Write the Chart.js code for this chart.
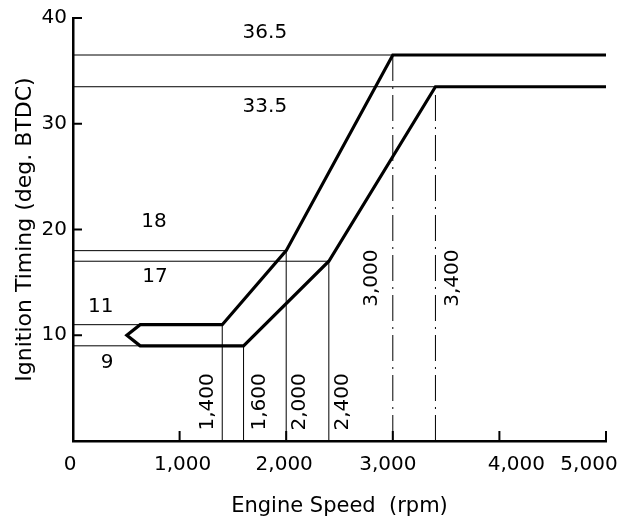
<!DOCTYPE html>
<html>
<head>
<meta charset="utf-8">
<script src="https://cdn.jsdelivr.net/npm/chart.js@4/dist/chart.umd.min.js"></script>
<style>
    html, body { margin: 0; padding: 0; background: #fff; }
    #wrap { width: 628px; height: 527px; }
</style>
</head>
<body>
<div id="wrap"><canvas id="timingChart"></canvas></div>
<script>
// advance curve (outline of the band)
const curveRpm = [5000, 3000, 2000, 1400, 630, 505, 630, 1600, 2400, 3400, 5000];
const curveDeg = [36.5, 36.5, 18, 11, 11, 10, 9, 9, 17, 33.5, 33.5];

// thin guide lines
const levelDeg = [36.5, 33.5, 18, 17, 11, 9];
const levelEnd = [3000, 3400, 2000, 2400, 630, 630];
const markRpm = [1400, 1600, 2000, 2400, 3000, 3400];
const markTop = [11, 9, 18, 17, 36.5, 33.5];
const markDashed = [false, false, false, false, true, true];

// annotation texts
const noteText = ['36.5', '33.5', '18', '17', '11', '9'];
const noteRpm = [1800, 1800, 760, 770, 260, 320];
const noteDeg = [38.6, 31.6, 20.7, 15.5, 12.7, 7.4];
const markText = ['1,400', '1,600', '2,000', '2,400', '3,000', '3,400'];
const markTextRpm = [1265, 1755, 2130, 2530, 2805, 3565];
const markTextDeg = [3.7, 3.7, 3.7, 3.7, 15.4, 15.4];

// small nudges of the x tick labels, like the typeset original
const xLabelShift = { 0: -3, 1000: 3, 2000: -2, 3000: -5, 4000: 17, 5000: -17 };

const FONT = "'DejaVu Sans', sans-serif";

const datasets = [{
    data: curveRpm.map((x, i) => ({ x: x, y: curveDeg[i] })),
    borderColor: '#000',
    borderWidth: 3.2,
    borderJoinStyle: 'miter',
    pointRadius: 0,
    order: 0
}];

levelDeg.forEach((d, i) => {
    datasets.push({
        data: [{ x: 0, y: d }, { x: levelEnd[i], y: d }],
        borderColor: '#000',
        borderWidth: 1,
        pointRadius: 0,
        order: 1
    });
});

markRpm.forEach((r, i) => {
    datasets.push({
        data: [{ x: r, y: 0 }, { x: r, y: markTop[i] }],
        borderColor: '#000',
        borderWidth: 1,
        borderDash: markDashed[i] ? [26, 6, 2, 6] : [],
        pointRadius: 0,
        order: 1
    });
});

// inward tick marks, x tick labels and text notes
const notesPlugin = {
    id: 'notes',
    afterDatasetsDraw(chart) {
        const c = chart.ctx;
        const xs = chart.scales.x;
        const ys = chart.scales.y;
        c.save();
        c.strokeStyle = '#000';
        c.lineWidth = 2;
        ys.ticks.forEach(t => {
            if (t.value === 0) return;
            const py = ys.getPixelForValue(t.value);
            c.beginPath();
            c.moveTo(xs.left, py);
            c.lineTo(xs.left + 9, py);
            c.stroke();
        });
        xs.ticks.forEach(t => {
            if (t.value === 0) return;
            const px = xs.getPixelForValue(t.value);
            c.beginPath();
            c.moveTo(px, ys.bottom);
            c.lineTo(px, ys.bottom - 10);
            c.stroke();
        });

        c.fillStyle = '#000';
        c.font = '20px ' + FONT;
        c.textAlign = 'center';
        c.textBaseline = 'middle';
        xs.ticks.forEach(t => {
            const px = xs.getPixelForValue(t.value) + (xLabelShift[t.value] || 0);
            c.fillText(t.value.toLocaleString('en-US'), px, ys.bottom + 24);
        });
        noteText.forEach((s, i) => {
            c.fillText(s, xs.getPixelForValue(noteRpm[i]), ys.getPixelForValue(noteDeg[i]));
        });
        markText.forEach((s, i) => {
            c.save();
            c.translate(xs.getPixelForValue(markTextRpm[i]), ys.getPixelForValue(markTextDeg[i]));
            c.rotate(-Math.PI / 2);
            c.fillText(s, 0, 0);
            c.restore();
        });
        c.restore();
    }
};

function noPad(s) {
    s.paddingLeft = 0;
    s.paddingRight = 0;
    s.paddingTop = 0;
    s.paddingBottom = 0;
}

new Chart(document.getElementById('timingChart'), {
    type: 'line',
    data: { datasets: datasets },
    plugins: [notesPlugin],
    options: {
        responsive: true,
        maintainAspectRatio: false,
        animation: false,
        layout: { padding: { top: 18, right: 22, left: 0, bottom: 0 } },
        plugins: {
            legend: { display: false },
            tooltip: { enabled: false }
        },
        scales: {
            x: {
                type: 'linear',
                min: 0,
                max: 5000,
                afterFit: s => { s.height = 86; noPad(s); },
                border: { color: '#000', width: 2.5 },
                grid: { display: false, drawTicks: false },
                ticks: {
                    display: false,
                    stepSize: 1000
                },
                title: {
                    display: true,
                    text: 'Engine Speed  (rpm)',
                    color: '#000',
                    padding: { top: 0, bottom: 8 },
                    font: { family: FONT, size: 21 }
                }
            },
            y: {
                min: 0,
                max: 40,
                afterFit: s => { s.width = 73; noPad(s); },
                border: { color: '#000', width: 2.5 },
                grid: { display: false, drawTicks: false },
                ticks: {
                    stepSize: 10,
                    padding: 6,
                    color: '#000',
                    font: { family: FONT, size: 20 },
                    callback: v => v === 0 ? '' : v
                },
                title: {
                    display: true,
                    text: 'Ignition Timing (deg. BTDC)',
                    color: '#000',
                    padding: { top: 12, bottom: 0 },
                    font: { family: FONT, size: 22 }
                }
            }
        }
    }
});
</script>
</body>
</html>
